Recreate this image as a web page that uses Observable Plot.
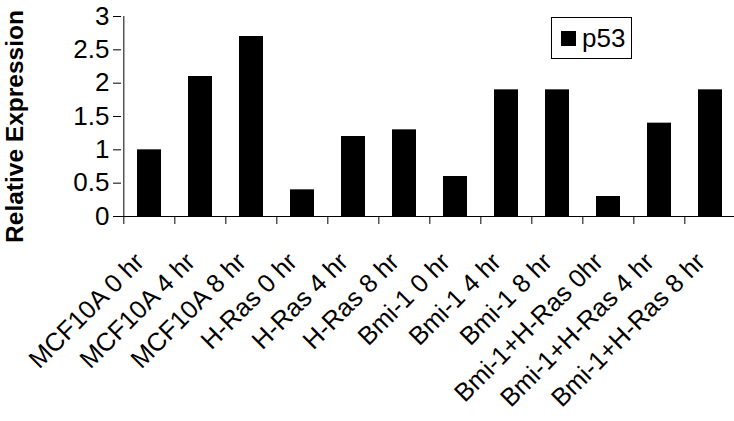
<!DOCTYPE html>
<html>
<head>
<meta charset="utf-8">
<script src="https://cdn.jsdelivr.net/npm/d3@7"></script>
<script src="https://cdn.jsdelivr.net/npm/@observablehq/plot@0.6"></script>
<style>
  html, body { margin: 0; padding: 0; background: #fff; }
  #chart { position: relative; width: 734px; height: 421px; overflow: hidden; font-family: "Liberation Sans", Arial, sans-serif; }
  #legend { position: absolute; left: 551px; top: 17px; width: 79px; height: 40px; border: 1px solid #000; background: #fff; display: flex; align-items: center; }
  #legend .sw { width: 15px; height: 15px; background: #000; margin-left: 9px; margin-right: 6px; }
  #legend .lb { font-size: 26px; color: #000; line-height: 1; }
</style>
</head>
<body>
<div id="chart"></div>
<script>
const categories = [
  "MCF10A 0 hr", "MCF10A 4 hr", "MCF10A 8 hr",
  "H-Ras 0 hr", "H-Ras 4 hr", "H-Ras 8 hr",
  "Bmi-1 0 hr", "Bmi-1 4 hr", "Bmi-1 8 hr",
  "Bmi-1+H-Ras 0hr", "Bmi-1+H-Ras 4 hr", "Bmi-1+H-Ras 8 hr"
];
const values = [1.0, 2.1, 2.7, 0.4, 1.2, 1.3, 0.6, 1.9, 1.9, 0.3, 1.4, 1.9];
const yTicks = [0, 0.5, 1, 1.5, 2, 2.5, 3];
const yTickLabels = ["0", "0.5", "1", "1.5", "2", "2.5", "3"];
const seriesName = "p53";
const yTitle = "Relative Expression";

const data = categories.map((c, i) => ({category: c, value: values[i]}));

const xLeft = 121, xRight = 737, yBottom = 216, yTop = 16;
const halfStep = (xRight - xLeft) / categories.length / 2;

const plot = Plot.plot({
  width: 734,
  height: 421,
  marginLeft: xLeft,
  marginTop: yTop,
  marginBottom: 421 - yBottom,
  marginRight: 0,
  style: {fontFamily: "'Liberation Sans', Arial, sans-serif", background: "#fff", overflow: "visible", color: "#000"},
  x: {domain: categories, range: [xLeft, xRight], paddingInner: 0.53, paddingOuter: 0.265, axis: null},
  y: {domain: [0, 3], range: [yBottom, yTop], axis: null},
  marks: [
    Plot.barY(data, {x: "category", y: "value", fill: "#000"}),
    Plot.ruleY([0], {stroke: "#000", strokeWidth: 1}),
    Plot.ruleX([categories[0]], {dx: -halfStep, y1: 0, y2: 3, stroke: "#000", strokeWidth: 1}),
    Plot.ruleX(categories, {x: d => d, dx: -halfStep, y1: 0, y2: -0.12, stroke: "#000", strokeWidth: 1}),
    Plot.axisY({ticks: yTicks, tickSize: 8, tickPadding: 4, fontSize: 26, label: null,
      tickFormat: d => yTickLabels[yTicks.indexOf(d)], stroke: "#000"}),
    Plot.text([yTitle], {frameAnchor: "left", textAnchor: "middle", rotate: -90, dx: -106, dy: 10, fontWeight: "bold", fontSize: 24.5, fill: "#000"}),
    Plot.text(categories, {x: d => d, frameAnchor: "bottom", rotate: -45, textAnchor: "end", dx: -4, dy: 47, fontSize: 25.5, fill: "#000"})
  ]
});

const chart = document.getElementById("chart");
chart.appendChild(plot);
const legend = document.createElement("div");
legend.id = "legend";
legend.innerHTML = `<span class="sw"></span><span class="lb"></span>`;
legend.querySelector(".lb").textContent = seriesName;
chart.appendChild(legend);
</script>
</body>
</html>
